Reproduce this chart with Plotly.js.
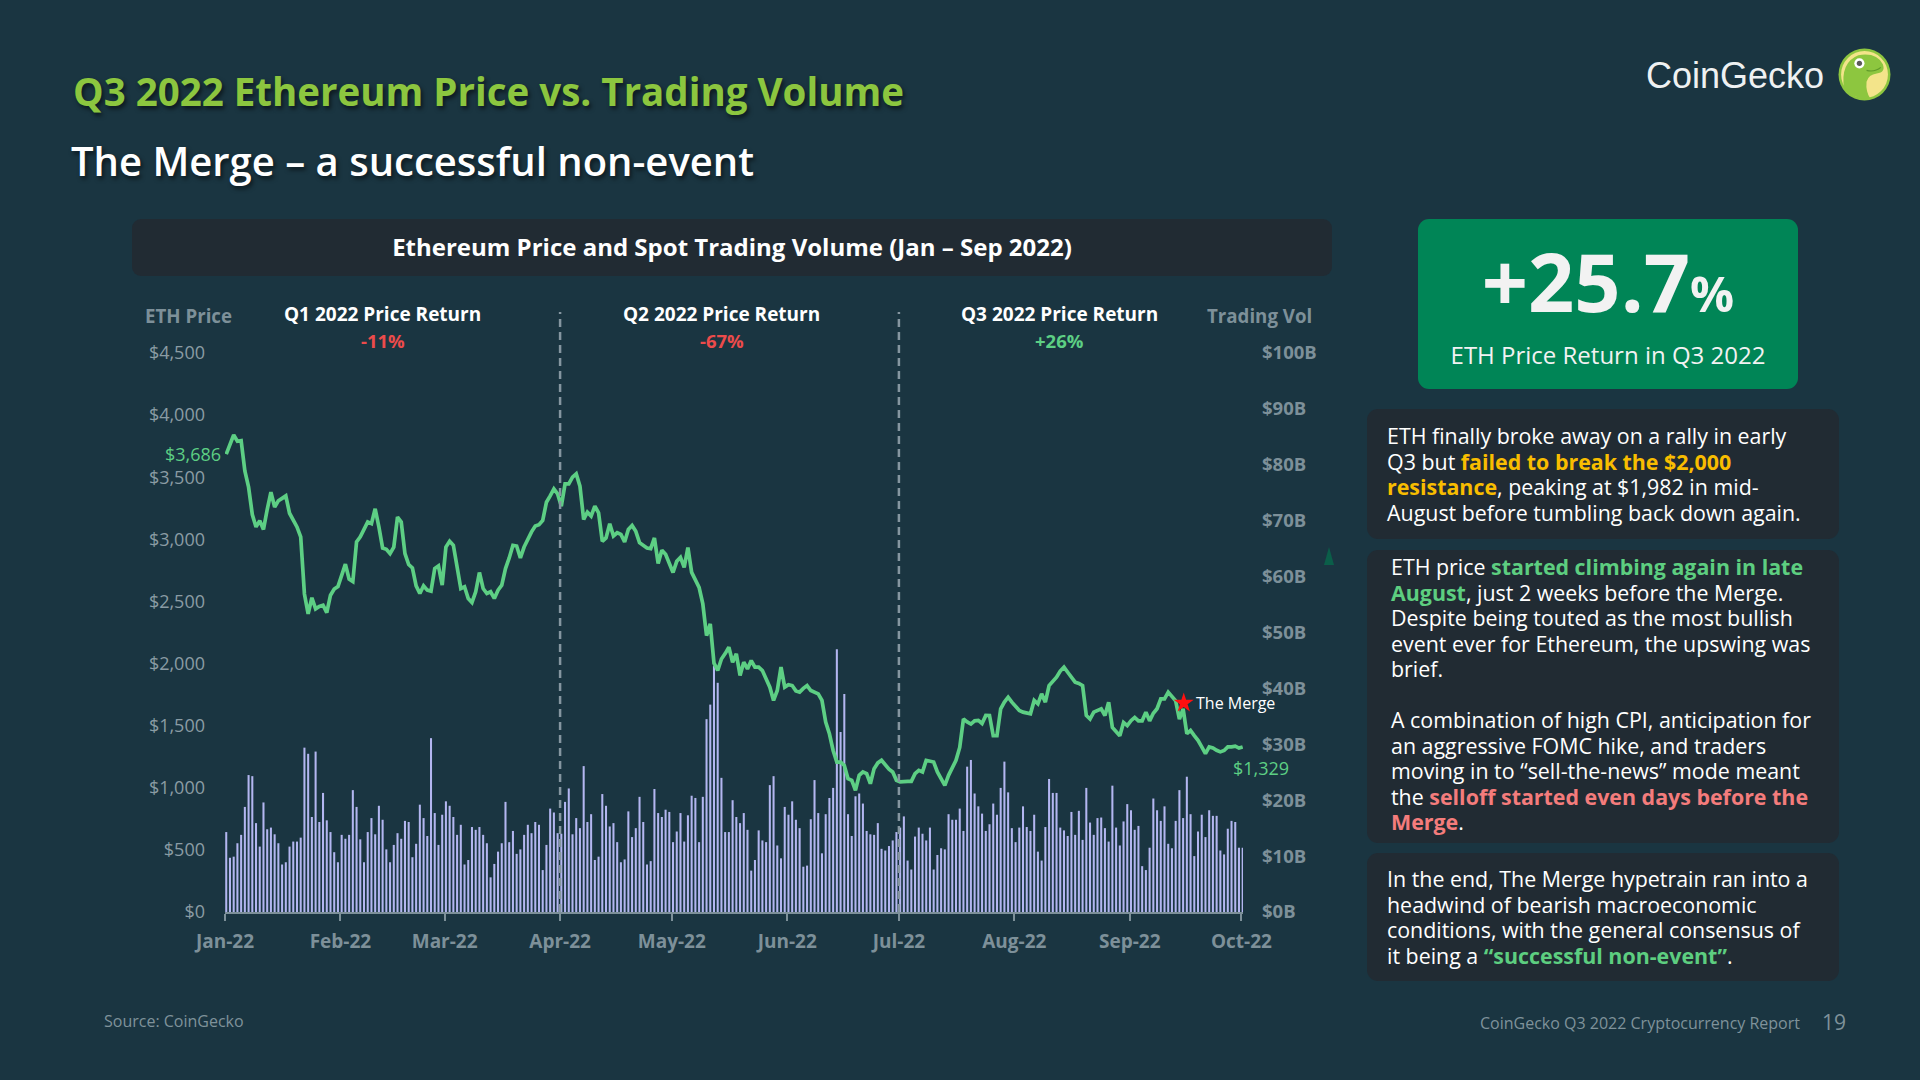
<!DOCTYPE html>
<html>
<head>
<meta charset="utf-8">
<script src="https://cdn.plot.ly/plotly-3.0.1.min.js"></script>
<style>
html,body{margin:0;padding:0;width:1920px;height:1080px;overflow:hidden;background:#1a3541;font-family:"Open Sans",sans-serif;}
#chart{position:absolute;left:0;top:0;width:1920px;height:1080px;}
.abs{position:absolute;white-space:nowrap;}
#title{left:73px;top:72px;font-size:38.5px;line-height:1;font-weight:700;color:#8cc63f;text-shadow:2px 3px 4px rgba(0,0,0,0.55);}
#subtitle{left:71px;top:141px;font-size:40px;line-height:1;font-weight:600;color:#ffffff;text-shadow:2px 3px 4px rgba(0,0,0,0.55);}
#logoText{left:1646px;top:58px;font-family:"Liberation Sans",Arial,sans-serif;font-size:36px;line-height:1;color:#eef1f2;}
#logoIcon{left:1838px;top:48px;width:53px;height:53px;}
#chartHeaderBox{left:132px;top:219px;width:1200px;height:57px;background:#212b33;border-radius:9px;}
#chartHeaderText{left:732px;top:235px;transform:translateX(-50%);color:#fff;font-weight:700;font-size:24px;line-height:1;}
#bigBox{left:1418px;top:219px;width:380px;height:170px;background:#008556;border-radius:11px;}
#bigNum{left:0;top:21px;width:380px;text-align:center;color:#f2f2f2;font-weight:700;line-height:1;}
#bigNum .n{font-size:81px;}
#bigNum .p{font-size:49px;}
#bigSub{left:0;top:124px;width:380px;text-align:center;color:#f2f2f2;font-size:24px;line-height:1;}
.panel{background:#212b33;border-radius:11px;color:#ffffff;font-size:21.4px;line-height:25.5px;box-sizing:border-box;}
#p1{left:1367px;top:409px;width:472px;height:130px;padding:14px 0 0 20px;}
#p2{left:1367px;top:550px;width:472px;height:293px;padding:4px 0 0 24px;}
#p3{left:1367px;top:853px;width:472px;height:128px;padding:13px 0 0 20px;}
.yl{color:#f8bd00;font-weight:700;}
.gr{color:#5dce80;font-weight:700;}
.rd{color:#f47c7c;font-weight:700;}
#source{left:104px;top:1013px;font-size:16px;line-height:1;color:#7f929a;}
#report{left:1480px;top:1015px;font-size:16px;line-height:1;color:#7f929a;}
#page{left:1822px;top:1012px;font-size:21px;line-height:1;color:#7f929a;}
#tri{left:1324px;top:547px;width:0;height:0;border-left:5px solid transparent;border-right:5px solid transparent;border-bottom:18px solid #0b5e49;}
</style>
</head>
<body>
<div id="chart"></div>

<div class="abs" id="title">Q3 2022 Ethereum Price vs. Trading Volume</div>
<div class="abs" id="subtitle">The Merge – a successful non-event</div>
<div class="abs" id="logoText">CoinGecko</div>
<svg class="abs" id="logoIcon" viewBox="0 0 52 52">
  <circle cx="26" cy="26" r="25.5" fill="#8dc63f"/>
  <circle cx="26" cy="26" r="23" fill="#f3e48a"/>
  <path d="M 6 40 Q 2 14 20 7 Q 38 4 44 16 Q 47 24 38 25 Q 30 26 28 33 Q 27 43 32 50 Q 16 51 6 40 Z" fill="#8dc63f"/>
  <circle cx="21" cy="15" r="5" fill="#ffffff"/>
  <circle cx="21" cy="15" r="2.6" fill="#5a5a5a"/>
  <path d="M 28 22 Q 36 24 42 19" stroke="#5f9a2a" stroke-width="1.2" fill="none"/>
</svg>

<div class="abs" id="chartHeaderBox"></div>
<div class="abs" id="chartHeaderText">Ethereum Price and Spot Trading Volume (Jan – Sep 2022)</div>

<div class="abs" id="bigBox">
  <div class="abs" id="bigNum"><span class="n">+25.7</span><span class="p">%</span></div>
  <div class="abs" id="bigSub">ETH Price Return in Q3 2022</div>
</div>

<div class="abs panel" id="p1">ETH finally broke away on a rally in early<br>Q3 but <span class="yl">failed to break the $2,000</span><br><span class="yl">resistance</span>, peaking at $1,982 in mid-<br>August before tumbling back down again.</div>

<div class="abs panel" id="p2">ETH price <span class="gr">started climbing again in late</span><br><span class="gr">August</span>, just 2 weeks before the Merge.<br>Despite being touted as the most bullish<br>event ever for Ethereum, the upswing was<br>brief.<br><br>A combination of high CPI, anticipation for<br>an aggressive FOMC hike, and traders<br>moving in to “sell-the-news” mode meant<br>the <span class="rd">selloff started even days before the</span><br><span class="rd">Merge</span>.</div>

<div class="abs panel" id="p3">In the end, The Merge hypetrain ran into a<br>headwind of bearish macroeconomic<br>conditions, with the general consensus of<br>it being a <span class="gr">“successful non-event”</span>.</div>

<div class="abs" id="source">Source: CoinGecko</div>
<div class="abs" id="report">CoinGecko Q3 2022 Cryptocurrency Report</div>
<div class="abs" id="page">19</div>
<div class="abs" id="tri"></div>

<script>
// ---------- DATA ----------
const startDate = '2022-01-01';

// ETH daily price, USD
const priceJan = [3686,3770,3840,3790,3795,3550,3420,3200,3100,3150,3080,3240,3380,3260,3310,3330,3350,3210,3160,3100,3020,2560,2400,2530,2440,2460,2470,2410,2550,2600,2620];
const priceFeb = [2700,2800,2680,2660,2980,3020,3080,3140,3126,3246,3100,2930,2920,2885,2938,3179,3139,2885,2797,2770,2626,2564,2626,2591,2583,2765,2786,2631];
const priceMar = [2938,2984,2952,2770,2604,2618,2524,2492,2578,2733,2604,2564,2578,2524,2591,2631,2765,2850,2952,2946,2850,2938,3005,3060,3107,3118,3152,3299,3350,3406,3366];
const priceApr = [3267,3446,3446,3500,3527,3428,3160,3219,3187,3267,3214,2984,3011,3126,3027,3053,3040,2979,3080,3112,3064,2973,2950,2930,2925,3011,2805,2912,2880,2805];
const priceMay = [2733,2823,2854,2774,2934,2734,2680,2613,2480,2225,2319,2003,1944,2037,2080,2131,2011,2078,1904,2011,1957,2024,1971,1971,1944,1870,1810,1703,1783,1971,1810];
const priceJun = [1830,1823,1780,1770,1800,1823,1783,1770,1756,1703,1529,1435,1300,1207,1207,1180,1073,1060,980,1100,1127,1114,1033,1154,1200,1221,1181,1150,1127,1060];
const priceJul = [1047,1052,1052,1052,1114,1140,1127,1221,1215,1207,1127,1070,1020,1100,1167,1221,1325,1553,1530,1513,1539,1543,1518,1583,1582,1419,1419,1636,1690,1729,1689];
const priceAug = [1650,1622,1609,1600,1596,1703,1676,1756,1689,1823,1860,1890,1940,1971,1930,1890,1850,1840,1823,1582,1553,1609,1620,1636,1582,1689,1486,1450,1419,1526,1500];
const priceSep = [1540,1566,1539,1539,1609,1539,1600,1636,1716,1716,1770,1729,1700,1553,1636,1435,1462,1420,1382,1329,1275,1329,1320,1302,1289,1300,1329,1329,1335,1320];
const priceOct = [1329];

// Spot trading volume, USD billions
const volQ1 = [14.3,9.7,9.9,12.3,13.8,18.8,24.5,24.3,15.9,11.7,
  19.6,14.8,15.1,13.9,12.3,8.5,8.9,11.7,12.6,12.6,
  13.3,29.4,28.3,17.0,28.7,16.1,21.3,16.4,14.3,10.7,
  8.9,13.8,13.1,13.8,21.8,18.8,13.0,8.9,14.3,16.8,
  13.9,19.0,16.5,11.2,8.9,12.0,14.1,13.1,16.3,16.1,
  9.8,12.2,19.2,16.8,13.6,31.1,17.7,12.0,17.4,19.8,
  19.0,17.0,13.8,15.6,8.5,9.3,15.2,14.7,15.2,13.8,
  12.3,6.2,8.6,10.8,12.3,19.7,12.5,14.5,10.4,11.2,
  13.8,15.6,14.1,16.1,15.6,7.5,12.0,18.5,17.8,14.1];
const volQ2 = [14.0,19.7,22.1,13.9,16.8,15.0,26.1,16.1,17.5,9.3,
  9.9,21.1,19.0,15.3,15.9,12.5,8.9,9.4,18.0,13.4,
  15.0,20.6,16.1,8.5,9.1,22.0,17.7,17.0,18.3,17.9,
  12.5,14.4,17.7,12.6,17.3,20.8,20.4,12.5,20.6,34.5,
  37.1,44.0,41.0,24.0,14.3,14.3,20.0,17.0,15.9,17.7,
  14.7,7.4,9.3,14.6,12.8,12.5,22.7,24.3,11.9,9.6,
  18.8,17.4,19.8,16.5,15.0,8.1,8.3,16.6,23.6,17.7,
  10.5,17.5,20.4,22.2,47.0,32.2,39.0,17.5,13.6,20.7,
  21.2,19.4,14.5,13.9,13.8,15.9,11.3,11.0,11.8,12.8,14.3];
const volQ3 = [15.1,17.1,9.2,7.6,13.5,15.1,14.0,12.8,15.1,
  7.6,10.2,11.4,11.2,17.5,16.5,16.5,18.5,14.5,26.0,
  27.2,21.2,18.9,17.6,14.5,15.7,19.4,17.4,22.2,26.9,
  21.4,15.0,12.5,15.1,18.9,15.2,14.5,17.4,10.8,9.2,
  15.2,23.8,21.3,21.3,15.1,14.6,13.6,17.9,13.8,18.1,
  12.9,22.2,16.0,13.8,16.8,16.9,15.0,12.6,22.6,15.1,
  11.9,16.2,19.3,18.2,14.7,15.4,8.2,7.5,11.5,20.3,
  18.2,16.3,18.9,12.2,11.4,16.3,21.8,16.8,24.2,17.5,
  10.0,14.4,17.4,13.4,18.2,17.2,17.2,11.0,10.3,14.9,
  16.3,16.1,11.5,11.5];

const monthTickDates = ['2022-01-01','2022-02-01','2022-03-01','2022-04-01','2022-05-01','2022-06-01','2022-07-01','2022-08-01','2022-09-01','2022-10-01'];
const monthTickLabels = ['Jan-22','Feb-22','Mar-22','Apr-22','May-22','Jun-22','Jul-22','Aug-22','Sep-22','Oct-22'];
const priceTicks = [0,500,1000,1500,2000,2500,3000,3500,4000,4500];
const volumeTicks = [0,10,20,30,40,50,60,70,80,90,100];
const quarterTitles = ['Q1 2022 Price Return','Q2 2022 Price Return','Q3 2022 Price Return'];
const quarterReturns = ['-11%','-67%','+26%'];
const quarterBoundaries = ['2022-04-01','2022-07-01'];
const mergeDate = '2022-09-15 12:00';
const mergePrice = 1682;
const mergeLabel = 'The Merge';

// ---------- BUILD ----------
const ethPrice = [].concat(priceJan,priceFeb,priceMar,priceApr,priceMay,priceJun,priceJul,priceAug,priceSep,priceOct);
const spotVolume = [].concat(volQ1,volQ2,volQ3);

const dates = [];
const t0 = Date.parse(startDate + 'T00:00:00Z');
for (let i = 0; i < ethPrice.length; i++) {
  const d = new Date(t0 + i * 86400000);
  dates.push(d.toISOString().slice(0,10) + ' 08:00');
}

const GREEN = '#5dcf84';
const RED = '#ec4b4b';
const GREY = '#7d9099';
const GREY_L = '#8a9ca4';
const FONT = 'Open Sans';
const fmt = v => '$' + v.toLocaleString('en-US');

// plot area in pixels
const L = 225, R = 1243.5, T = 353, B = 912;
const px = x => (x - L) / (R - L);
const py = y => (B - y) / (B - T);

const traces = [
  {
    type: 'bar', x: dates, y: spotVolume, yaxis: 'y',
    marker: {color: '#b3b6f0', line: {width: 0}},
    width: 0.55 * 86400000, hoverinfo: 'skip'
  },
  {
    type: 'scatter', mode: 'lines', x: dates, y: ethPrice, yaxis: 'y2',
    line: {color: GREEN, width: 3.7}, hoverinfo: 'skip'
  },
  {
    type: 'scatter', mode: 'markers', x: [mergeDate], y: [mergePrice], yaxis: 'y2',
    marker: {symbol: 'star', size: 15, color: '#ff1010', line: {width: 0}}, hoverinfo: 'skip'
  }
];

const annotations = [];
annotations.push({xref:'paper', yref:'paper', x: px(143), y: py(316), xanchor:'left', yanchor:'middle', showarrow:false,
  text:'<b>ETH Price</b>', font:{family:FONT, size:18.7, color:GREY}});
annotations.push({xref:'paper', yref:'paper', x: px(1205), y: py(316), xanchor:'left', yanchor:'middle', showarrow:false,
  text:'<b>Trading Vol</b>', font:{family:FONT, size:18.7, color:GREY}});
const qCenters = [383, 722, 1060];
for (let i = 0; i < 3; i++) {
  const c = quarterReturns[i][0] === '+' ? GREEN : RED;
  annotations.push({xref:'paper', yref:'paper', x: px(qCenters[i]), y: py(314), xanchor:'center', yanchor:'middle', showarrow:false,
    borderpad:0, text:'<b>' + quarterTitles[i] + '</b>', font:{family:FONT, size:19, color:'#ffffff'}});
  annotations.push({xref:'paper', yref:'paper', x: px(qCenters[i]), y: py(340), xanchor:'center', yanchor:'middle', showarrow:false,
    borderpad:0, text:'<b>' + quarterReturns[i] + '</b>', font:{family:FONT, size:18.5, color:c}});
}
annotations.push({xref:'x', yref:'y2', x: dates[0], y: ethPrice[0], xanchor:'right', yanchor:'middle', xshift:-3, showarrow:false,
  text: fmt(ethPrice[0]), font:{family:FONT, size:18, color:GREEN}});
const last = ethPrice.length - 1;
annotations.push({xref:'x', yref:'y2', x: dates[last], y: ethPrice[last], xanchor:'left', yanchor:'middle', xshift:-12, yshift:-21, showarrow:false,
  text: fmt(ethPrice[last]), font:{family:FONT, size:18, color:GREEN}});
annotations.push({xref:'x', yref:'y2', x: mergeDate, y: mergePrice, xanchor:'left', yanchor:'middle', xshift:10, showarrow:false,
  text: mergeLabel, font:{family:FONT, size:16, color:'#ffffff'}});

const shapes = quarterBoundaries.map(d => ({
  type:'line', xref:'x', yref:'paper', x0:d, x1:d, y0:0, y1:py(312),
  line:{color:'#8596a0', width:2.5, dash:'8px,5px'}, layer:'above'
}));

const layout = {
  width:1920, height:1080,
  margin:{l:L, r:1920-R, t:T, b:1080-B, pad:0},
  paper_bgcolor:'rgba(0,0,0,0)', plot_bgcolor:'rgba(0,0,0,0)',
  showlegend:false,
  font:{family:FONT, color:GREY},
  xaxis:{
    type:'date', range:['2022-01-01', '2022-10-01 10:00'],
    tickvals: monthTickDates, ticktext: monthTickLabels,
    tickfont:{family:FONT, size:19, color:GREY, weight:700},
    showgrid:false, zeroline:false, showline:true, linecolor:GREY, linewidth:2,
    ticks:'outside', ticklen:7, tickwidth:2, tickcolor:GREY, ticklabelstandoff:4, fixedrange:true
  },
  yaxis:{
    side:'right', range:[0,100],
    tickvals: volumeTicks, ticktext: volumeTicks.map(v => '$' + v + 'B'),
    tickfont:{family:FONT, size:18.5, color:GREY, weight:700},
    showgrid:false, zeroline:false, showline:false, ticks:'', ticklabelstandoff:18, fixedrange:true
  },
  yaxis2:{
    overlaying:'y', side:'left', range:[0,4500],
    tickvals: priceTicks, ticktext: priceTicks.map(fmt),
    tickfont:{family:FONT, size:18, color:GREY_L},
    showgrid:false, zeroline:false, showline:false, ticks:'', ticklabelstandoff:19, fixedrange:true
  },
  annotations: annotations,
  shapes: shapes
};

Plotly.newPlot('chart', traces, layout, {displayModeBar:false, staticPlot:true});
</script>
</body>
</html>
